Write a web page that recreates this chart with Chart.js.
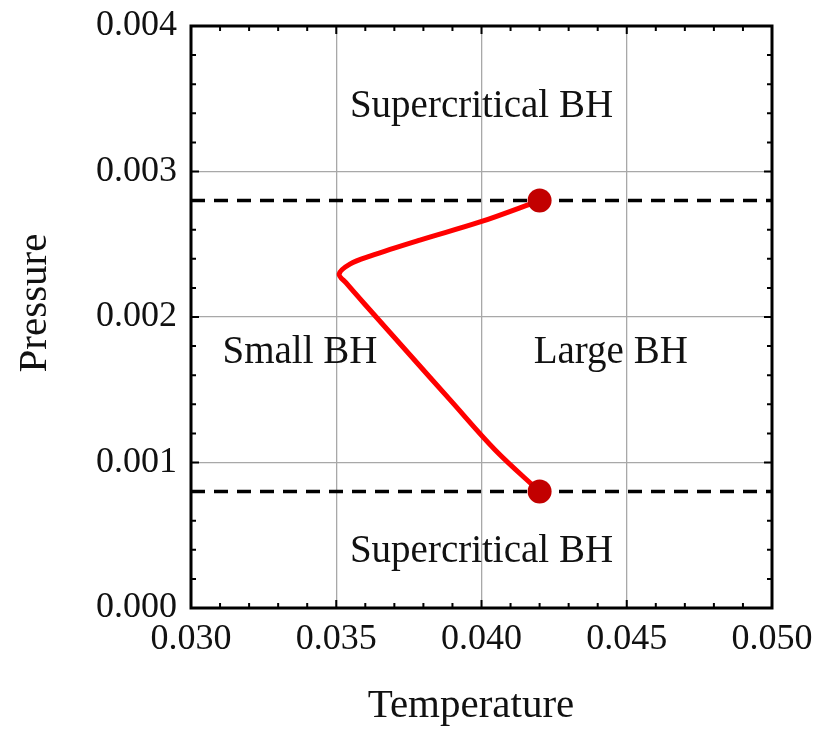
<!DOCTYPE html>
<html>
<head>
<meta charset="utf-8">
<script src="https://cdn.jsdelivr.net/npm/chart.js@4/dist/chart.umd.min.js"></script>
<style>
  body { margin: 0; background: #fff; }
  canvas { display: block; }
</style>
</head>
<body>
<canvas id="myChart" width="819" height="738"></canvas>
<script>
// coexistence curve (top end -> nose -> bottom end)
var temperature = [0.0420, 0.03995, 0.03788, 0.03616, 0.03547, 0.03510, 0.03534, 0.03616, 0.03754, 0.03892, 0.04047, 0.0420];
var pressure = [0.00280, 0.002653, 0.002529, 0.002419, 0.002364, 0.002296, 0.002234, 0.002048, 0.001739, 0.001430, 0.001086, 0.00080];

// critical points
var critT = [0.042, 0.042];
var critP = [0.0028, 0.0008];

// horizontal dashed levels
var dashLevels = [0.0028, 0.0008];

var xTicks = [0.030, 0.035, 0.040, 0.045, 0.050];
var yTicks = [0.000, 0.001, 0.002, 0.003, 0.004];

var regionNames = ["Supercritical BH", "Supercritical BH", "Small BH", "Large BH"];
var regionT = [0.0400, 0.0400, 0.03375, 0.04445];
var regionP = [0.003375, 0.000316, 0.001684, 0.001684];

var serif = "'Liberation Serif', 'Times New Roman', serif";

function pts(xs, ys) {
    return xs.map(function (x, i) { return { x: x, y: ys[i] }; });
}

// keep the plot box where the reference has it
function noPad(scale) {
    scale.paddingLeft = 0;
    scale.paddingRight = 0;
    scale.paddingTop = 0;
    scale.paddingBottom = 0;
}

var datasets = [
    {
        data: pts(critT, critP),
        showLine: false,
        pointRadius: 12,
        pointBackgroundColor: "#c20000",
        pointBorderWidth: 0
    },
    {
        data: pts(temperature, pressure),
        showLine: true,
        borderColor: "#ff0000",
        borderWidth: 5,
        pointRadius: 0,
        tension: 0.35,
        borderCapStyle: "round",
        borderJoinStyle: "round"
    }
];
dashLevels.forEach(function (p) {
    datasets.push({
        data: pts([xTicks[0], xTicks[xTicks.length - 1]], [p, p]),
        showLine: true,
        borderColor: "#000",
        borderWidth: 3.5,
        borderDash: [14, 9],
        pointRadius: 0
    });
});

// frame, inward ticks (with minors), region labels and axis titles
var decor = {
    id: "decor",
    afterDatasetsDraw: function (chart) {
        var ctx = chart.ctx;
        var a = chart.chartArea;
        var xs = chart.scales.x, ys = chart.scales.y;
        ctx.save();

        ctx.fillStyle = "#111";
        ctx.font = "39px " + serif;
        ctx.textAlign = "center";
        ctx.textBaseline = "alphabetic";
        regionNames.forEach(function (name, i) {
            ctx.fillText(name, xs.getPixelForValue(regionT[i]), ys.getPixelForValue(regionP[i]));
        });

        ctx.strokeStyle = "#000";
        ctx.lineWidth = 2;
        var i, v, px, len;
        for (i = 0; i <= 20; i++) {
            v = 0.030 + i * 0.001;
            px = xs.getPixelForValue(v);
            len = (i % 5 === 0) ? 8 : 5;
            ctx.beginPath();
            ctx.moveTo(px, a.bottom); ctx.lineTo(px, a.bottom - len);
            ctx.moveTo(px, a.top); ctx.lineTo(px, a.top + len);
            ctx.stroke();
        }
        for (i = 0; i <= 20; i++) {
            v = i * 0.0002;
            px = ys.getPixelForValue(v);
            len = (i % 5 === 0) ? 8 : 5;
            ctx.beginPath();
            ctx.moveTo(a.left, px); ctx.lineTo(a.left + len, px);
            ctx.moveTo(a.right, px); ctx.lineTo(a.right - len, px);
            ctx.stroke();
        }

        ctx.lineWidth = 3;
        ctx.strokeRect(a.left, a.top, a.right - a.left, a.bottom - a.top);

        ctx.fillStyle = "#111";
        ctx.font = "41px " + serif;
        ctx.textAlign = "center";
        ctx.fillText("Temperature", 471, 717);
        ctx.translate(46, 303);
        ctx.rotate(-Math.PI / 2);
        ctx.fillText("Pressure", 0, 0);
        ctx.restore();
    }
};

var ctx = document.getElementById("myChart").getContext("2d");
var myChart = new Chart(ctx, {
    type: "scatter",
    data: { datasets: datasets },
    options: {
        responsive: false,
        animation: false,
        layout: { autoPadding: false, padding: { left: 0, top: 26, right: 47, bottom: 0 } },
        plugins: { legend: { display: false }, tooltip: { enabled: false } },
        scales: {
            x: {
                type: "linear",
                min: xTicks[0],
                max: xTicks[xTicks.length - 1],
                afterFit: function (scale) { scale.height = 130; noPad(scale); },
                afterBuildTicks: function (scale) {
                    scale.ticks = xTicks.map(function (v) { return { value: v }; });
                },
                ticks: {
                    padding: 10,
                    color: "#111",
                    font: { family: serif, size: 36 },
                    maxRotation: 0,
                    callback: function (v) { return Number(v).toFixed(3); }
                },
                grid: { color: "#a8a8a8", lineWidth: 1.3, drawTicks: false },
                border: { display: false }
            },
            y: {
                type: "linear",
                min: yTicks[0],
                max: yTicks[yTicks.length - 1],
                afterFit: function (scale) { scale.width = 191; noPad(scale); },
                afterBuildTicks: function (scale) {
                    scale.ticks = yTicks.map(function (v) { return { value: v }; });
                },
                ticks: {
                    padding: 14,
                    color: "#111",
                    font: { family: serif, size: 36 },
                    callback: function (v) { return Number(v).toFixed(3); }
                },
                grid: { color: "#a8a8a8", lineWidth: 1.3, drawTicks: false },
                border: { display: false }
            }
        }
    },
    plugins: [decor]
});
</script>
</body>
</html>
